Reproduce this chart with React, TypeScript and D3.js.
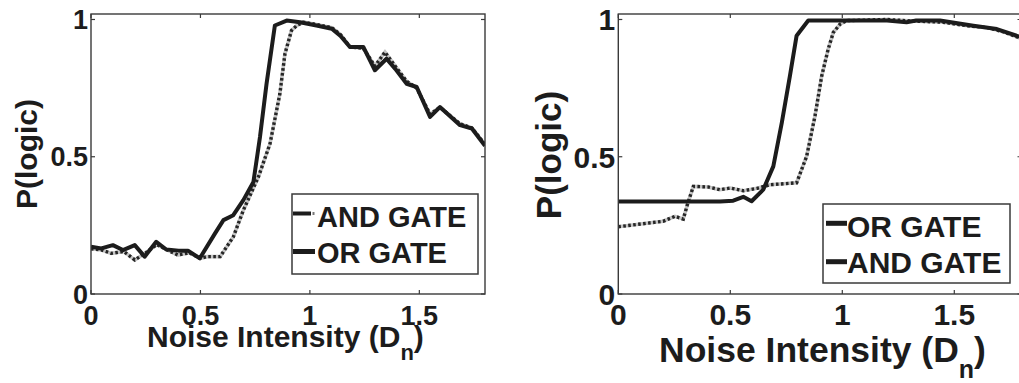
import React from "react";
import * as d3 from "d3";

// ---------- data ----------
const leftOrX = [0, 0.047, 0.1, 0.146, 0.2, 0.245, 0.298, 0.344, 0.4, 0.443, 0.497, 0.566, 0.605, 0.65, 0.696, 0.742, 0.772, 0.802, 0.84, 0.894, 0.955, 1.03, 1.1, 1.14, 1.183, 1.244, 1.297, 1.35, 1.39, 1.442, 1.488, 1.549, 1.594, 1.686, 1.74, 1.8];
const leftOrY = [0.172, 0.166, 0.178, 0.16, 0.178, 0.136, 0.19, 0.162, 0.158, 0.158, 0.13, 0.22, 0.269, 0.287, 0.342, 0.408, 0.572, 0.766, 0.978, 0.996, 0.99, 0.978, 0.966, 0.94, 0.9, 0.9, 0.815, 0.857, 0.82, 0.766, 0.754, 0.645, 0.681, 0.615, 0.603, 0.54];

const leftAndX = [0, 0.05, 0.093, 0.15, 0.2, 0.25, 0.3, 0.35, 0.397, 0.45, 0.5, 0.53, 0.59, 0.65, 0.696, 0.765, 0.818, 0.863, 0.886, 0.916, 0.94, 0.97, 1.03, 1.1, 1.14, 1.183, 1.244, 1.297, 1.343, 1.39, 1.442, 1.488, 1.549, 1.594, 1.686, 1.74, 1.8];
const leftAndY = [0.165, 0.16, 0.148, 0.155, 0.124, 0.15, 0.18, 0.16, 0.142, 0.15, 0.13, 0.136, 0.136, 0.208, 0.305, 0.427, 0.548, 0.73, 0.875, 0.96, 0.978, 0.99, 0.982, 0.97, 0.945, 0.9, 0.895, 0.83, 0.881, 0.83, 0.775, 0.75, 0.655, 0.68, 0.62, 0.605, 0.545];

const rightOrX = [0, 0.454, 0.513, 0.558, 0.595, 0.647, 0.692, 0.73, 0.766, 0.796, 0.848, 1.0, 1.2, 1.287, 1.33, 1.436, 1.585, 1.69, 1.8];
const rightOrY = [0.337, 0.337, 0.34, 0.354, 0.338, 0.38, 0.465, 0.624, 0.794, 0.941, 0.996, 0.996, 0.996, 0.99, 0.996, 0.996, 0.977, 0.965, 0.935];

const rightAndX = [0, 0.1, 0.2, 0.253, 0.29, 0.31, 0.335, 0.4, 0.454, 0.5, 0.558, 0.62, 0.677, 0.796, 0.841, 0.878, 0.908, 0.937, 0.96, 0.99, 1.02, 1.2, 1.3, 1.45, 1.55, 1.65, 1.72, 1.8];
const rightAndY = [0.245, 0.255, 0.265, 0.283, 0.273, 0.33, 0.392, 0.39, 0.38, 0.386, 0.376, 0.385, 0.398, 0.405, 0.502, 0.648, 0.794, 0.892, 0.953, 0.983, 0.996, 1.0, 0.995, 0.99, 0.978, 0.97, 0.955, 0.93];

const xTicks = [0, 0.5, 1, 1.5];
const yTicks = [0, 0.5, 1];
const xTickLabels = ["0", "0.5", "1", "1.5"];
const yTickLabels = ["0", "0.5", "1"];

const leftLegend = ["AND GATE", "OR GATE"];
const rightLegend = ["OR GATE", "AND GATE"];

const FONT = "'Liberation Sans', Arial, Helvetica, sans-serif";
const INK = "#1c1c1c";
const AXIS = "#3a3a3a";

type PanelProps = {
  x0: number; x1: number; y0: number; y1: number;
  tickFont: number; titleFont: number; subFont: number;
  titleX: number; titleBase: number; subDy: number;
  yTitleX: number; yTitleY: number; yTitleFont: number;
  solidX: number[]; solidY: number[]; dotX: number[]; dotY: number[];
  legend: string[]; legendBox: [number, number, number, number];
  legendFont: number; legendTextX: number; legendBase: number[];
  legendLineY: number[]; legendLineX: [number, number]; variant: "left" | "right";
  clipId: string;
};

function Panel(p: PanelProps) {
  const x = d3.scaleLinear().domain([0, 1.8]).range([p.x0, p.x1]);
  const y = d3.scaleLinear().domain([0, 1.02]).range([p.y0, p.y1]);
  const line = d3.line<[number, number]>().x((d) => x(d[0])).y((d) => y(d[1]));
  const solid = line(p.solidX.map((v, i) => [v, p.solidY[i]] as [number, number])) || "";
  const dot = line(p.dotX.map((v, i) => [v, p.dotY[i]] as [number, number])) || "";
  const tl = 4;
  const [lx, ly, lw, lh] = p.legendBox;
  return (
    <g>
      <clipPath id={p.clipId}>
        <rect x={p.x0} y={p.y1} width={p.x1 - p.x0} height={p.y0 - p.y1} />
      </clipPath>
      <g clipPath={`url(#${p.clipId})`}>
        <path d={dot} fill="none" stroke="#c4c4c4" strokeWidth={3.6} />
        <path d={dot} fill="none" stroke="#262626" strokeWidth={3.4} strokeDasharray="2.6 2.4" />
        <path d={solid} fill="none" stroke={INK} strokeWidth={4} strokeLinejoin="round" />
      </g>
      {/* axes box */}
      <rect x={p.x0} y={p.y1} width={p.x1 - p.x0} height={p.y0 - p.y1} fill="none" stroke={AXIS} strokeWidth={1.4} />
      {xTicks.map((t) => (
        <g key={"xt" + t}>
          <line x1={x(t)} x2={x(t)} y1={p.y0} y2={p.y0 - tl} stroke={AXIS} strokeWidth={1.2} />
          <line x1={x(t)} x2={x(t)} y1={p.y1} y2={p.y1 + tl} stroke={AXIS} strokeWidth={1.2} />
        </g>
      ))}
      {yTicks.map((t) => (
        <g key={"yt" + t}>
          <line x1={p.x0} x2={p.x0 + tl} y1={y(t)} y2={y(t)} stroke={AXIS} strokeWidth={1.2} />
          <line x1={p.x1} x2={p.x1 - tl} y1={y(t)} y2={y(t)} stroke={AXIS} strokeWidth={1.2} />
        </g>
      ))}
      {xTicks.map((t, i) => (
        <text key={"xl" + t} x={x(t)} y={325} textAnchor="middle" fontFamily={FONT} fontWeight="bold" fontSize={p.tickFont} fill={INK}>
          {xTickLabels[i]}
        </text>
      ))}
      {yTicks.map((t, i) => (
        <text key={"yl" + t} x={p.x0 - 3} y={y(t)} dy="0.36em" textAnchor="end" fontFamily={FONT} fontWeight="bold" fontSize={p.tickFont} fill={INK}>
          {yTickLabels[i]}
        </text>
      ))}
      {/* x title */}
      <text x={p.titleX} y={p.titleBase} fontFamily={FONT} fontWeight="bold" fontSize={p.titleFont} fill={INK}>
        Noise Intensity (D
        <tspan fontSize={p.subFont} dy={p.subDy}>n</tspan>
        <tspan dy={-p.subDy}>)</tspan>
      </text>
      {/* y title */}
      <text transform={`translate(${p.yTitleX},${p.yTitleY}) rotate(-90)`} textAnchor="middle" fontFamily={FONT} fontWeight="bold" fontSize={p.yTitleFont} fill={INK}>
        P(logic)
      </text>
      {/* legend */}
      <rect x={lx} y={ly} width={lw} height={lh} fill="#fff" stroke={AXIS} strokeWidth={1.5} />
      {p.legend.map((name, i) => (
        <g key={name}>
          {p.variant === "left" && i === 0 ? (
            <g>
              <line x1={p.legendLineX[0]} x2={p.legendLineX[1] - 4} y1={p.legendLineY[i]} y2={p.legendLineY[i]} stroke={INK} strokeWidth={4} />
              <line x1={p.legendLineX[1] - 2.5} x2={p.legendLineX[1] - 0.5} y1={p.legendLineY[i]} y2={p.legendLineY[i]} stroke="#777" strokeWidth={3} />
            </g>
          ) : (
            <line x1={p.legendLineX[0]} x2={p.legendLineX[1]} y1={p.legendLineY[i]} y2={p.legendLineY[i]} stroke={INK} strokeWidth={5} />
          )}
          <text x={p.legendTextX} y={p.legendBase[i]} fontFamily={FONT} fontWeight="bold" fontSize={p.legendFont} fill={INK}>
            {name}
          </text>
        </g>
      ))}
    </g>
  );
}

export default function App() {
  return (
    <svg width={1019} height={383} style={{ position: "absolute", left: 0, top: 0, background: "#fff" }}>
      <rect x={0} y={0} width={1019} height={383} fill="#fff" />
      <Panel
        clipId="clipL"
        x0={91} x1={485} y0={294} y1={14}
        tickFont={27} titleFont={30} subFont={22} titleX={147} titleBase={347} subDy={13}
        yTitleX={37} yTitleY={154} yTitleFont={30}
        solidX={leftOrX} solidY={leftOrY} dotX={leftAndX} dotY={leftAndY}
        legend={leftLegend} legendBox={[292, 194, 186, 80]} legendFont={29} legendTextX={317}
        legendBase={[226.5, 263]} legendLineY={[213.5, 251.5]} legendLineX={[293, 315]} variant="left"
      />
      <Panel
        clipId="clipR"
        x0={618.3} x1={1021.5} y0={294} y1={14}
        tickFont={30} titleFont={35.5} subFont={25} titleX={659} titleBase={361.5} subDy={16}
        yTitleX={561} yTitleY={155} yTitleFont={35}
        solidX={rightOrX} solidY={rightOrY} dotX={rightAndX} dotY={rightAndY}
        legend={rightLegend} legendBox={[823, 204, 187, 79]} legendFont={30} legendTextX={847}
        legendBase={[236.5, 273.3]} legendLineY={[223.3, 261.7]} legendLineX={[826, 847]} variant="right"
      />
    </svg>
  );
}
